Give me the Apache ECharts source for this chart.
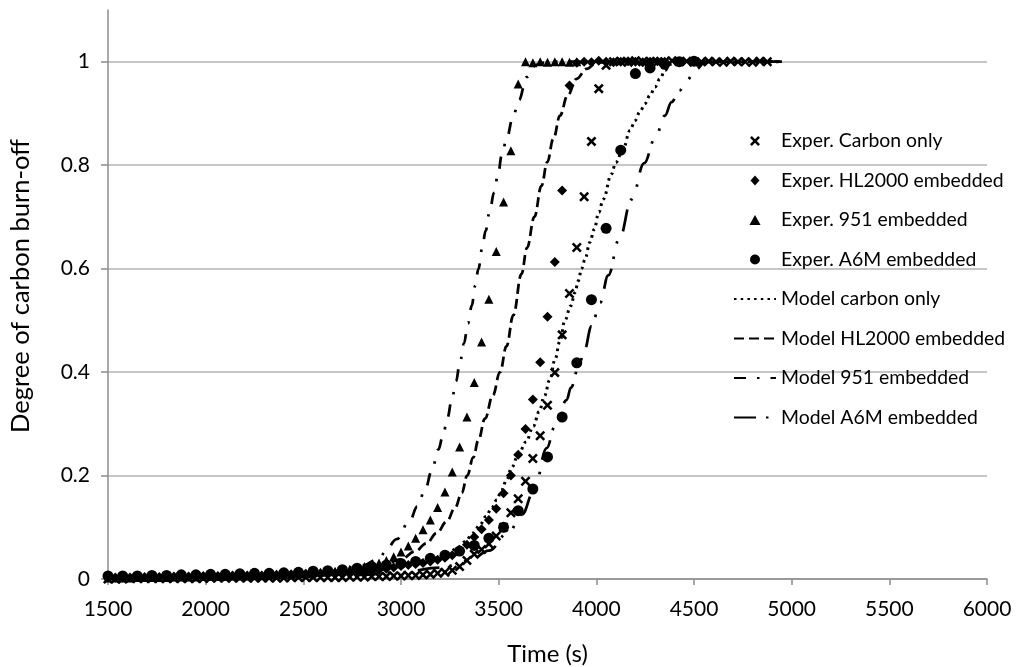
<!DOCTYPE html>
<html><head><meta charset="utf-8">
<script src="https://cdn.jsdelivr.net/npm/echarts/dist/echarts.min.js"></script>
<style>html,body{margin:0;padding:0;background:#fff}#c{width:1016px;height:667px}</style>
</head><body><div id="c"></div>
<script>
// ---------- DATA ----------
const xTicks = [1500, 2000, 2500, 3000, 3500, 4000, 4500, 5000, 5500, 6000];
const yTicks = [0, 0.2, 0.4, 0.6, 0.8, 1];
const seriesNames = ['Exper. Carbon only','Exper. HL2000 embedded','Exper. 951 embedded','Exper. A6M embedded',
  'Model carbon only','Model HL2000 embedded','Model 951 embedded','Model A6M embedded'];
const xTitle = 'Time (s)';
const yTitle = 'Degree of carbon burn-off';

// experimental sampling times (s)
const timeFine = [1500,1537.5,1575,1612.5,1650,1687.5,1725,1762.5,1800,1837.5,
  1875,1912.5,1950,1987.5,2025,2062.5,2100,2137.5,2175,2212.5,
  2250,2287.5,2325,2362.5,2400,2437.5,2475,2512.5,2550,2587.5,
  2625,2662.5,2700,2737.5,2775,2812.5,2850,2887.5,2925,2962.5,
  3000,3037.5,3075,3112.5,3150,3187.5,3225,3262.5,3300,3337.5,
  3375,3412.5,3450,3487.5,3525,3562.5,3600,3637.5,3675,3712.5,
  3750,3787.5,3825,3862.5,3900,3937.5,3975,4012.5,4050,4087.5,
  4125,4162.5,4200,4237.5,4275,4312.5,4350,4387.5,4425,4462.5,
  4500,4537.5,4575,4612.5,4650,4687.5,4725,4762.5,4800,4837.5,4875];
const timeCoarse = [1500,1575,1650,1725,1800,1875,1950,2025,2100,2175,
  2250,2325,2400,2475,2550,2625,2700,2775,2850,2925,
  3000,3075,3150,3225,3300,3375,3450,3525,3600,3675,
  3750,3825,3900,3975,4050,4125,4200,4275,4350,4425,4500];

const expCarbon = [0.000,0.000,0.000,0.001,0.001,0.001,0.001,0.001,0.001,0.001,
  0.001,0.001,0.001,0.001,0.002,0.002,0.002,0.002,0.002,0.002,
  0.002,0.002,0.002,0.002,0.002,0.003,0.003,0.003,0.003,0.003,
  0.003,0.003,0.003,0.004,0.004,0.004,0.005,0.005,0.005,0.006,
  0.006,0.007,0.007,0.008,0.009,0.011,0.013,0.017,0.024,0.036,
  0.048,0.057,0.068,0.083,0.100,0.128,0.155,0.189,0.233,0.277,
  0.336,0.399,0.472,0.552,0.641,0.739,0.846,0.948,0.993,1.000,
  1.001,0.999,1.002,1.000,1.001,0.999,1.000,1.002,1.000,1.001,
  0.999,1.000,1.001,1.000,0.999,1.001,1.000,1.000,0.999,1.001,1.000];
const expHL2000 = [0.003,0.003,0.003,0.003,0.004,0.004,0.004,0.004,0.005,0.005,
  0.005,0.005,0.006,0.006,0.006,0.006,0.006,0.007,0.007,0.007,
  0.007,0.007,0.008,0.008,0.008,0.009,0.009,0.010,0.010,0.011,
  0.011,0.012,0.013,0.013,0.014,0.015,0.016,0.018,0.020,0.022,
  0.025,0.027,0.029,0.031,0.034,0.037,0.041,0.046,0.054,0.066,
  0.081,0.096,0.114,0.136,0.166,0.200,0.240,0.290,0.347,0.419,
  0.507,0.613,0.751,0.954,0.998,1.000,0.999,1.002,1.000,0.999,
  1.000,1.001,1.000,0.999,1.000,1.001,1.000];
const exp951 = [0.002,0.002,0.002,0.002,0.003,0.003,0.003,0.003,0.003,0.004,
  0.004,0.004,0.004,0.005,0.005,0.005,0.005,0.006,0.006,0.006,
  0.007,0.007,0.008,0.008,0.009,0.009,0.010,0.011,0.012,0.013,
  0.014,0.015,0.017,0.019,0.021,0.024,0.027,0.031,0.036,0.043,
  0.052,0.064,0.079,0.095,0.114,0.138,0.168,0.207,0.255,0.313,
  0.380,0.458,0.541,0.633,0.729,0.828,0.957,1.000,0.998,1.000,
  0.999,1.000,1.000,0.999,1.000];
const expA6M = [0.006,0.006,0.006,0.007,0.007,0.008,0.008,0.009,0.009,0.010,
  0.011,0.011,0.012,0.013,0.015,0.016,0.018,0.021,0.024,0.027,
  0.030,0.034,0.040,0.046,0.054,0.065,0.079,0.100,0.132,0.174,
  0.236,0.313,0.418,0.540,0.678,0.829,0.977,0.988,0.995,1.000,1.001];

// model curves
const modelCarbonT = [1500,2000,2400,2700,2900,3050,3150,3234,3285,3327,3370,3404,3435,3464,3490,3515,3541,3566,3600,3640,3677,3708,3733,3763,3788,3814,3839,3869,3891,3907,3925,3942,3967,3989,4013,4035,4078,4099,4140,4172,4198,4223,4249,4275,4300,4326,4351,4380,4420,4500,4700,4950];
const modelCarbonY = [0.001,0.003,0.006,0.012,0.020,0.030,0.038,0.047,0.059,0.072,0.089,0.105,0.121,0.137,0.153,0.172,0.192,0.215,0.240,0.265,0.295,0.324,0.353,0.386,0.424,0.460,0.500,0.528,0.554,0.576,0.600,0.618,0.651,0.676,0.709,0.734,0.783,0.805,0.835,0.867,0.886,0.903,0.919,0.935,0.951,0.967,0.983,0.995,0.999,1.000,1.000,1.000];
const modelHLT = [1500,2000,2400,2700,2900,3000,3071,3131,3183,3234,3276,3311,3339,3370,3396,3430,3470,3507,3540,3575,3617,3645,3683,3719,3749,3780,3814,3853,3899,3950,4001,4100,4500,4950];
const modelHLY = [0.001,0.003,0.006,0.013,0.026,0.038,0.053,0.069,0.089,0.111,0.137,0.166,0.200,0.235,0.268,0.310,0.355,0.400,0.450,0.510,0.590,0.640,0.700,0.760,0.806,0.851,0.896,0.935,0.967,0.986,0.998,1.000,1.000,1.000];
const model951T = [1500,2000,2400,2650,2800,2892,2918,2978,3046,3083,3123,3157,3191,3215,3237,3262,3281,3303,3322,3343,3362,3380,3396,3416,3433,3455,3476,3498,3515,3544,3570,3604,3643,3690,3750,4000,4500,4950];
const model951Y = [0.001,0.003,0.008,0.015,0.026,0.040,0.053,0.077,0.114,0.140,0.172,0.208,0.250,0.277,0.311,0.350,0.382,0.421,0.455,0.494,0.528,0.567,0.599,0.640,0.673,0.712,0.747,0.785,0.818,0.856,0.889,0.926,0.970,0.994,1.000,1.000,1.000,1.000];
const modelA6MT = [1500,2000,2500,2800,3000,3200,3350,3450,3550,3620,3680,3746,3788,3848,3870,3913,3937,3976,4019,4061,4117,4181,4245,4300,4351,4385,4425,4462,4510,4556,4650,4975];
const modelA6MY = [0.001,0.002,0.004,0.008,0.013,0.022,0.035,0.055,0.090,0.125,0.170,0.253,0.295,0.346,0.370,0.415,0.440,0.489,0.534,0.587,0.657,0.734,0.804,0.851,0.896,0.922,0.944,0.964,0.985,0.999,1.000,1.000];

// ---------- CHART ----------
const FONT = 'Lato';
const pairs = (t, v) => v.map((y, i) => [t[i], y]);
const xPath = 'path://M1.8,0 L5,3.2 L8.2,0 L10,1.8 L6.8,5 L10,8.2 L8.2,10 L5,6.8 L1.8,10 L0,8.2 L3.2,5 L0,1.8 Z';
const diamondPath = 'path://M4.5,0 L9,5 L4.5,10 L0,5 Z';
const trianglePath = 'path://M5,0 L10,9 L0,9 Z';
const LW = 2.75;

function scatter(name, data, symbol, size) {
  return { type: 'scatter', name, data, symbol, symbolSize: size,
    itemStyle: { color: '#000', opacity: 1 }, silent: true, z: 2 };
}
function line(name, t, y, dash, w) {
  return { type: 'line', name, data: pairs(t, y), symbol: 'none', showSymbol: false,
    smooth: 0.4, smoothMonotone: 'x', silent: true, z: 3,
    lineStyle: { color: '#000', width: w || LW, type: dash, cap: 'butt' },
    itemStyle: { color: '#000' } };
}
const legendData = seriesNames.map((n, i) => {
  if (i === 0) return { name: n, icon: xPath };
  if (i === 1) return { name: n, icon: diamondPath };
  if (i === 2) return { name: n, icon: trianglePath };
  if (i === 3) return { name: n, icon: 'circle' };
  return { name: n, itemStyle: { opacity: 0, color: 'rgba(0,0,0,0)', borderWidth: 0 } };
});

const chart = echarts.init(document.getElementById('c'), null, { renderer: 'canvas' });
chart.setOption({
  animation: false,
  backgroundColor: '#fff',
  textStyle: { fontFamily: FONT },
  grid: { left: 108, right: 29, top: 10, bottom: 88, containLabel: false, outerBoundsMode: 'none' },
  legend: {
    orient: 'vertical', left: 728, top: 126,
    itemWidth: 42, itemHeight: 10, itemGap: 19.5,
    textStyle: { fontFamily: FONT, fontSize: 19.4, color: '#000', lineHeight: 20 },
    data: legendData, selectedMode: false
  },
  graphic: [{
    type: 'text', x: 21, y: 286, rotation: Math.PI / 2, silent: true,
    style: { text: yTitle, font: '25.5px ' + FONT, fill: '#000', align: 'center', verticalAlign: 'middle' }
  }],
  xAxis: {
    type: 'value', min: xTicks[0], max: xTicks[xTicks.length - 1], interval: 500,
    name: xTitle, nameLocation: 'middle', nameGap: 63,
    nameTextStyle: { fontFamily: FONT, fontSize: 24, color: '#000' },
    axisLine: { show: true, onZero: false, lineStyle: { color: '#8c8c8c', width: 1.5 } },
    axisTick: { show: true, inside: false, length: 6, lineStyle: { color: '#8c8c8c', width: 1.5 } },
    axisLabel: { fontFamily: FONT, fontSize: 21, color: '#000', margin: 20,
      formatter: v => xTicks.includes(v) ? String(v) : '' },
    splitLine: { show: false }
  },
  yAxis: {
    type: 'value', min: 0, max: 1.1, interval: 0.2,
    axisLine: { show: true, lineStyle: { color: '#8c8c8c', width: 1.5 } },
    axisTick: { show: true, inside: false, length: 7, customValues: yTicks, lineStyle: { color: '#8c8c8c', width: 1.5 } },
    axisLabel: { fontFamily: FONT, fontSize: 21, color: '#000', margin: 18, customValues: yTicks,
      align: 'right', verticalAlign: 'middle',
      formatter: v => { const r = Math.round(v * 10) / 10; return yTicks.includes(r) ? String(r) : ''; } },
    splitLine: { show: true, lineStyle: { color: '#b3b3b3', width: 1.5 } }
  },
  series: [
    scatter(seriesNames[0], pairs(timeFine, expCarbon), xPath, 10),
    scatter(seriesNames[1], pairs(timeFine, expHL2000), diamondPath, 10),
    scatter(seriesNames[2], pairs(timeFine, exp951), trianglePath, 9),
    scatter(seriesNames[3], pairs(timeCoarse, expA6M), 'circle', 11),
    line(seriesNames[4], modelCarbonT, modelCarbonY, [2.5, 4.2], 3),
    line(seriesNames[5], modelHLT, modelHLY, [10, 5]),
    line(seriesNames[6], model951T, model951Y, [12, 11, 2.5, 11]),
    line(seriesNames[7], modelA6MT, modelA6MY, [22, 10, 2.5, 13, 2.5, 12])
  ]
});
</script></body></html>
